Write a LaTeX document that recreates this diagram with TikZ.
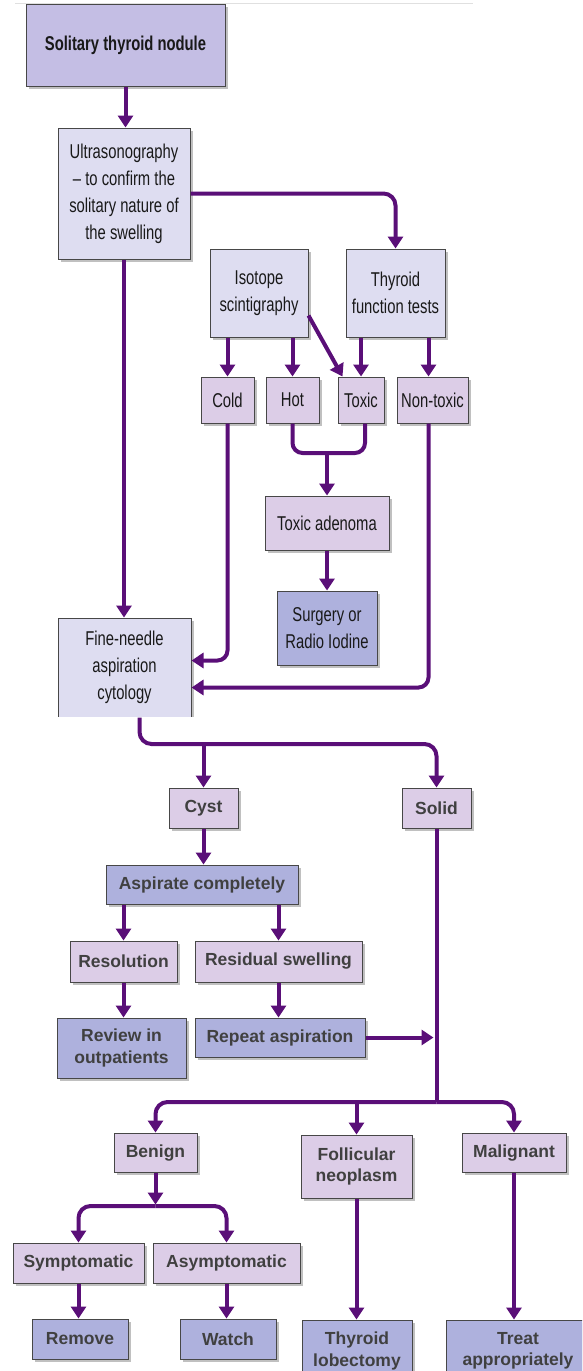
\documentclass[tikz,border=0pt]{standalone}
\usepackage{fontspec}
\setmainfont{Liberation Sans}
\newfontfamily\narrowfont{Liberation Sans}[FakeStretch=0.74]
\usetikzlibrary{arrows.meta,shadows,calc}
\definecolor{lnc}{HTML}{5A0F78}
\definecolor{cmed}{HTML}{C4BEE4}
\definecolor{clight}{HTML}{DEDDF1}
\definecolor{cpink}{HTML}{DCCDE7}
\definecolor{cblue}{HTML}{AEB1DD}
\tikzset{
  base/.style={draw=black!72, line width=1pt, inner sep=0pt, align=center,
    drop shadow={shadow xshift=2.5pt, shadow yshift=-2.5pt, fill=black!45, opacity=0.55}},
  topbox/.style={base, font=\narrowfont\fontsize{20}{27}\selectfont, text=black!90},
  botbox/.style={base, font=\bfseries\fontsize{17.5}{21.5}\selectfont, text=black!75},
  conn/.style={draw=lnc, line width=4pt},
  arr/.style={conn, -{Triangle[length=12pt,width=15pt]}},
}
\begin{document}
\begin{tikzpicture}[x=1pt,y=-1pt]
\useasboundingbox (0,0) rectangle (582,1371);
\clip (0,0) rectangle (582,1371);
\draw[black!12, line width=1pt] (15,3) -- (473,3);
% top part
\node[topbox, fill=cmed, font=\narrowfont\bfseries\fontsize{20}{27}\selectfont, minimum width=199, minimum height=82] (stn) at (125.5,45.5) {Solitary thyroid nodule};
\node[topbox, fill=clight, minimum width=132, minimum height=131] (us) at (124,193.5) {Ultrasonography\\ – to confirm the\\ solitary nature of\\ the swelling};
\node[topbox, fill=clight, minimum width=98, minimum height=88] (iso) at (259,293) {Isotope\\ scintigraphy};
\node[topbox, fill=clight, minimum width=99, minimum height=88] (tft) at (395.5,293) {Thyroid\\ function tests};
\node[topbox, fill=cpink, minimum width=53, minimum height=46] (cold) at (227.5,400) {Cold};
\node[topbox, fill=cpink, minimum width=53, minimum height=46] (hot) at (292.5,400) {Hot};
\node[topbox, fill=cpink, minimum width=46, minimum height=46] (toxic) at (361,400) {Toxic};
\node[topbox, fill=cpink, minimum width=71, minimum height=46] (nontox) at (432.5,400) {Non-toxic};
\node[topbox, fill=cpink, minimum width=124, minimum height=54] (aden) at (327,523) {Toxic adenoma};
\node[topbox, fill=cblue, minimum width=100, minimum height=74] (surg) at (327,628) {Surgery or\\ Radio Iodine};
\node[topbox, fill=clight, minimum width=133, minimum height=99] (fna) at (124.5,667.5) {Fine-needle\\ aspiration\\ cytology};
\fill[white] (50,717) rectangle (232,723);
% bottom part
\node[botbox, fill=cpink, minimum width=69, minimum height=40] (cyst) at (203.5,808) {Cyst};
\node[botbox, fill=cpink, minimum width=69, minimum height=40] (solid) at (436.5,808) {Solid};
\node[botbox, fill=cblue, minimum width=192, minimum height=39] (asp) at (202,884.5) {Aspirate completely};
\node[botbox, fill=cpink, minimum width=107, minimum height=41] (reso) at (123.5,961.5) {Resolution};
\node[botbox, fill=cpink, minimum width=167, minimum height=41] (resid) at (278.5,961.5) {Residual swelling};
\node[botbox, fill=cblue, minimum width=129, minimum height=60] (review) at (121.5,1048) {Review in\\ outpatients};
\node[botbox, fill=cblue, minimum width=170, minimum height=39] (repeat) at (280,1037.5) {Repeat aspiration};
\node[botbox, fill=cpink, minimum width=83, minimum height=39] (benign) at (155.5,1152.5) {Benign};
\node[botbox, fill=cpink, minimum width=111, minimum height=63] (follic) at (356.5,1166.5) {Follicular\\ neoplasm};
\node[botbox, fill=cpink, minimum width=104, minimum height=39] (malig) at (514,1152.5) {Malignant};
\node[botbox, fill=cpink, minimum width=131, minimum height=40] (sympt) at (78.5,1263) {Symptomatic};
\node[botbox, fill=cpink, minimum width=147, minimum height=40] (asympt) at (226.5,1263) {Asymptomatic};
\node[botbox, fill=cblue, minimum width=96, minimum height=40] (remove) at (80,1339) {Remove};
\node[botbox, fill=cblue, minimum width=96, minimum height=40] (watch) at (228,1339) {Watch};
\node[botbox, fill=cblue, minimum width=110, minimum height=62] (lobect) at (357,1351) {Thyroid\\ lobectomy};
\node[botbox, fill=cblue, minimum width=144, minimum height=62] (treat) at (518,1351) {Treat\\ appropriately};
% connectors top
\draw[arr] (stn.south) -- (stn.south |- us.north);
\draw[arr, rounded corners=12pt] (us.east) -| (tft.north);
\draw[arr] (us.south) -- (us.south |- fna.north);
\draw[arr] (cold.north |- iso.south) -- (cold.north);
\draw[arr] (hot.north |- iso.south) -- (hot.north);
\draw[arr] ([yshift=22pt]iso.south east) -- ([xshift=5pt]toxic.north west);
\draw[arr] (toxic.north |- tft.south) -- (toxic.north);
\coordinate (ntx) at ([xshift=-4pt]nontox.north);
\draw[arr] (ntx |- tft.south) -- (ntx);
\coordinate (tj) at ([xshift=4pt]toxic.south);
\coordinate (hj) at (aden.north |- 0,453);
\draw[conn, rounded corners=10pt] (hot.south) |- (hj) -| (tj);
\draw[arr] (hj) -- (aden.north);
\draw[arr] (aden.south) -- (surg.north);
\draw[arr, rounded corners=10pt] (cold.south) |- ([yshift=7pt]fna.east);
\draw[arr, rounded corners=10pt] (ntx |- nontox.south) |- ([yshift=-20pt]fna.east);
% connectors bottom
\coordinate (fo) at ([xshift=15pt]fna.south);
\coordinate (fj) at (fo |- 0,744);
\draw[arr, rounded corners=12pt] (fo) |- (solid.north |- fj) -- (solid.north);
\draw[arr] (cyst.north |- fj) -- (cyst.north);
\draw[arr] (cyst.south) -- (cyst.south |- asp.north);
\draw[arr] (reso.north |- asp.south) -- (reso.north);
\draw[arr] (resid.north |- asp.south) -- (resid.north);
\draw[arr] (reso.south) -- (reso.south |- review.north);
\draw[arr] (resid.south) -- (resid.south |- repeat.north);
\coordinate (sj) at (solid.south |- 0,1102);
\draw[conn] (solid.south) -- (sj);
\coordinate (sl) at ([xshift=-3pt]solid.south);
\draw[arr] (repeat.east) -- (sl |- repeat.east);
\draw[arr, rounded corners=12pt] (sj) -| (benign.north);
\draw[arr, rounded corners=12pt] (sj) -| (malig.north);
\draw[arr] (follic.north |- sj) -- (follic.north);
\coordinate (bj) at (benign.south |- 0,1206);
\draw[arr] (benign.south) -- ([yshift=1.5pt]bj);
\draw[arr, rounded corners=12pt] (bj) -| (sympt.north);
\draw[arr, rounded corners=12pt] (bj) -| (asympt.north);
\draw[arr] (sympt.south) -- (sympt.south |- remove.north);
\draw[arr] (asympt.south) -- (asympt.south |- watch.north);
\draw[arr] (follic.south) -- (follic.south |- lobect.north);
\draw[arr] (malig.south) -- (malig.south |- treat.north);
\end{tikzpicture}
\end{document}
